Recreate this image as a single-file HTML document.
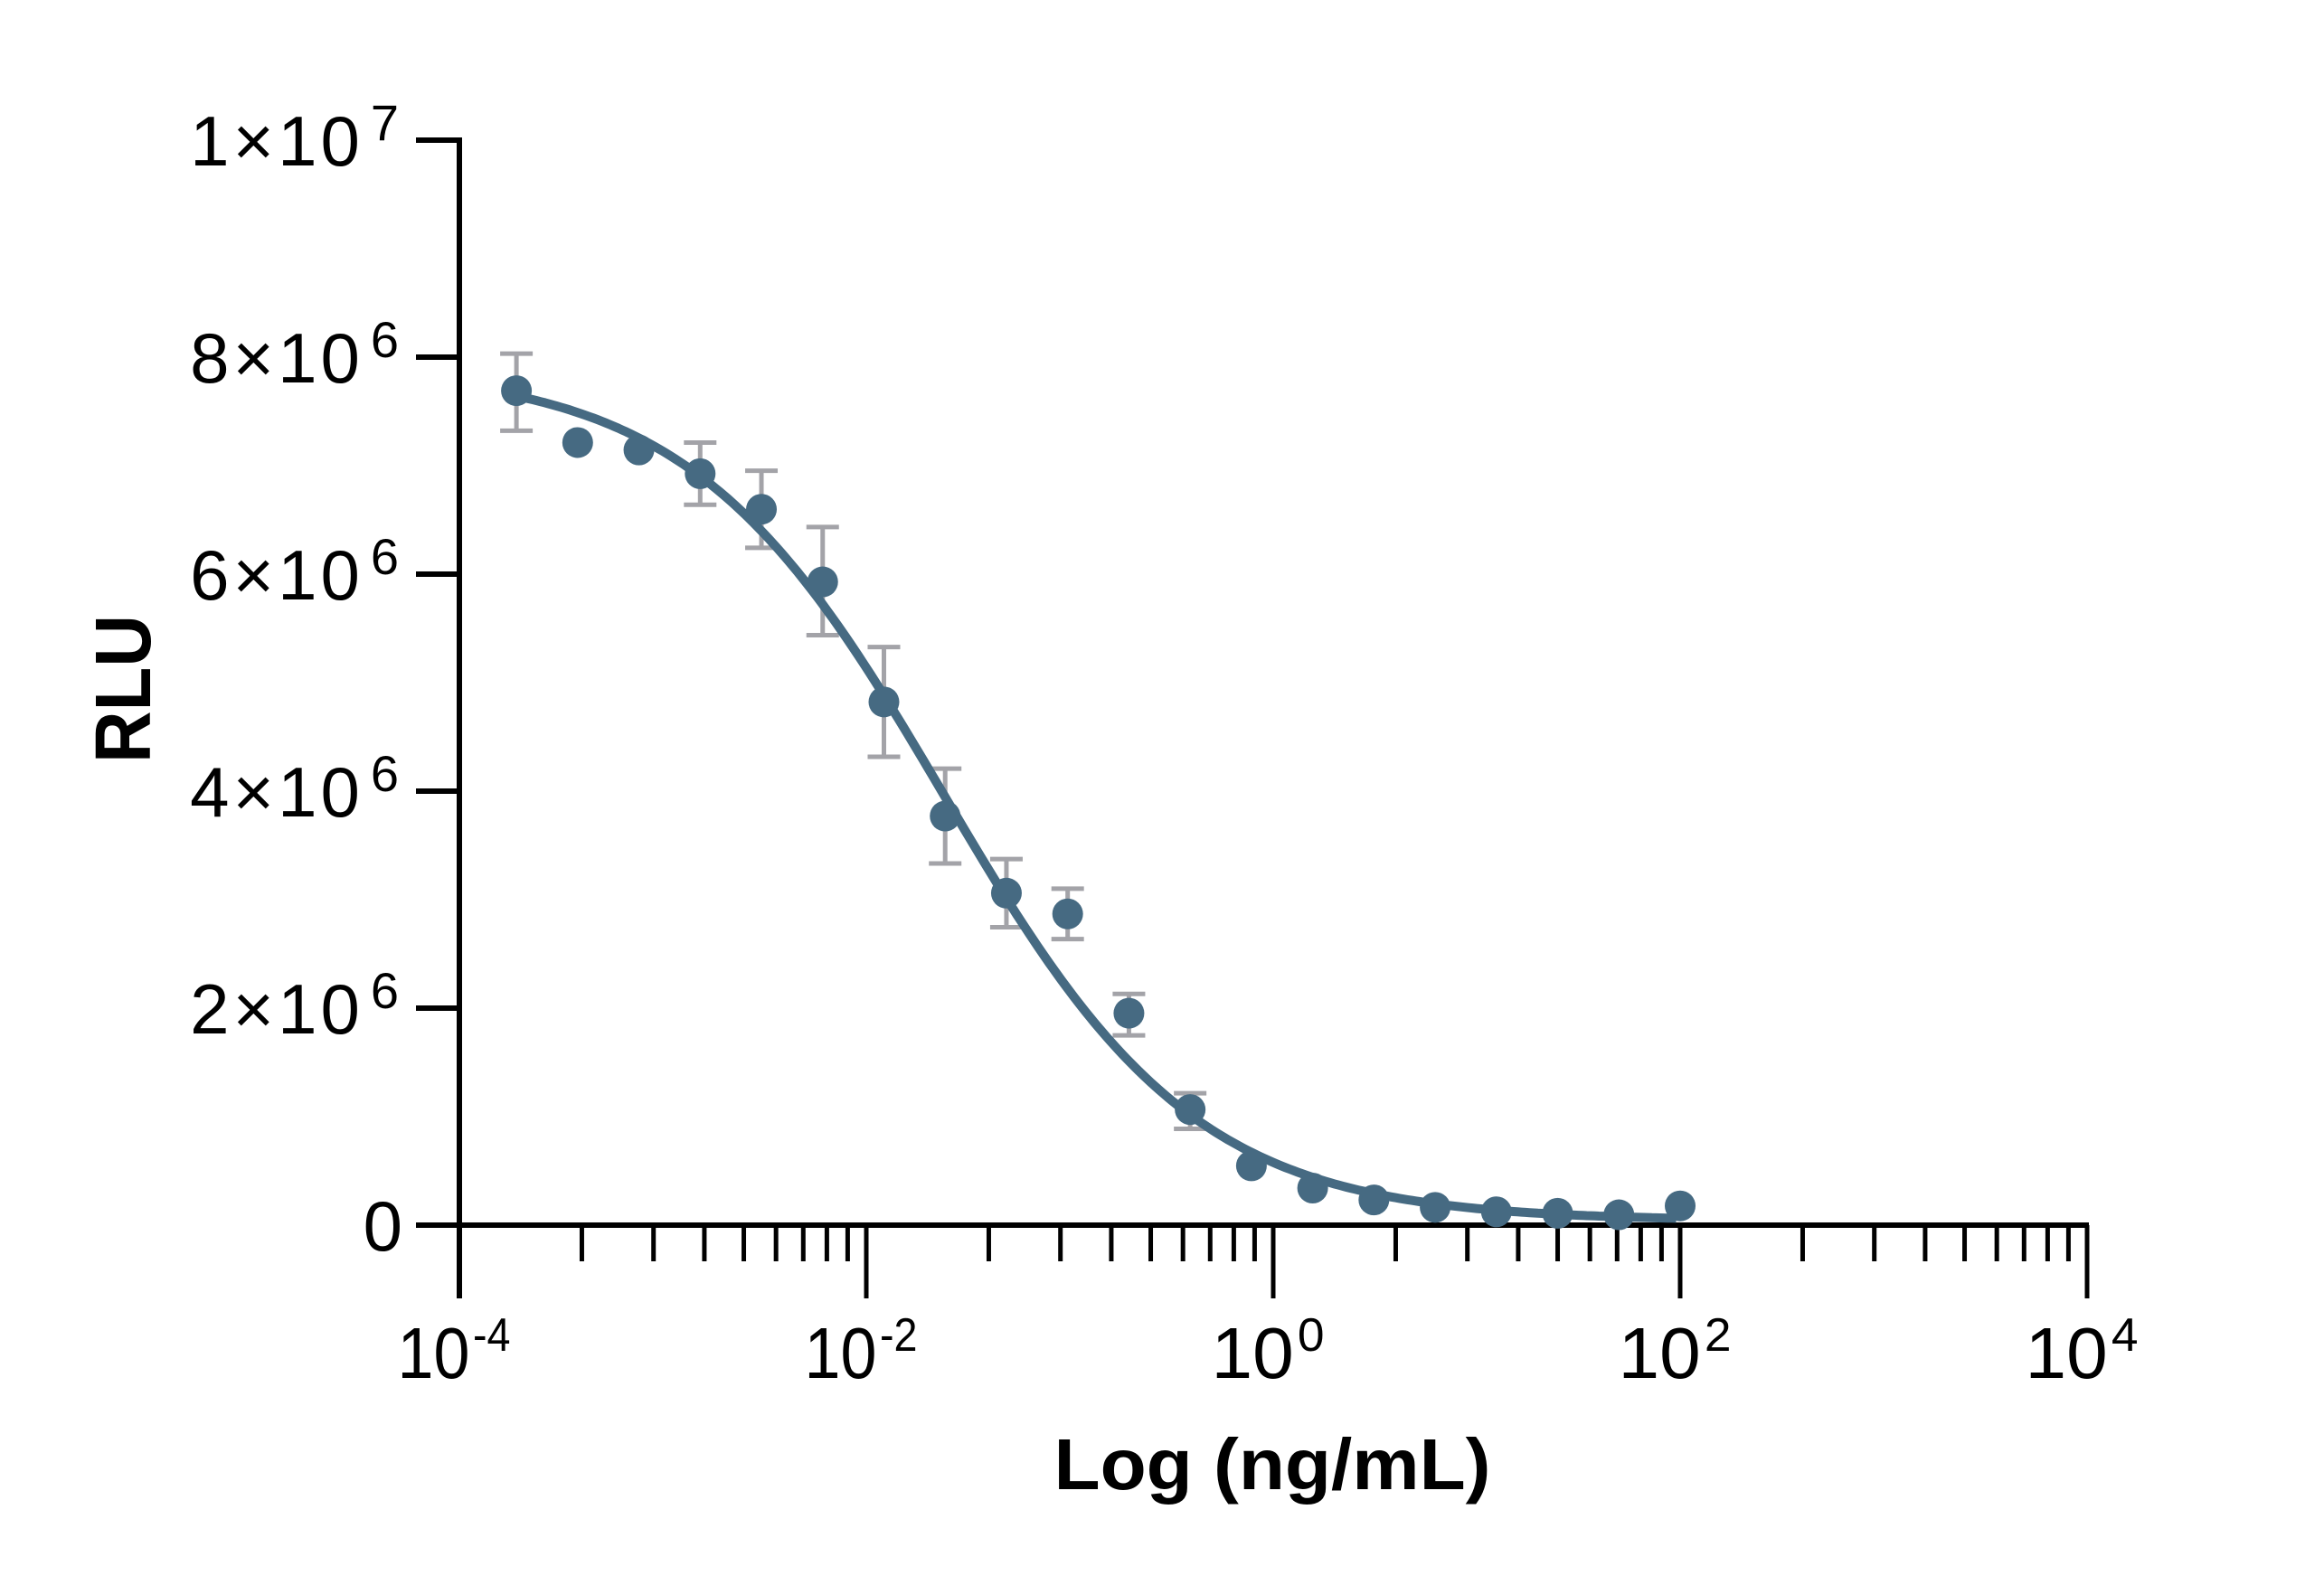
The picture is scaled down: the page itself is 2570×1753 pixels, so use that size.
<!DOCTYPE html>
<html><head><meta charset="utf-8"><style>
html,body{margin:0;padding:0;background:#fff;}
svg{display:block;}
text{font-family:"Liberation Sans",Arial,sans-serif;fill:#000;}
</style></head><body>
<svg id="s" width="2570" height="1753" viewBox="0 0 2570 1753" xmlns="http://www.w3.org/2000/svg">
<rect width="2570" height="1753" fill="#fff"/>
<g id="axes" stroke="#000" stroke-width="6" fill="none">
<line x1="508" y1="152" x2="508" y2="1436"/>
<line x1="460" y1="1355" x2="2310" y2="1355"/>
</g>
<g id="g"></g>
<text x="1407" y="1647" text-anchor="middle" font-weight="bold" font-size="80" textLength="483" lengthAdjust="spacingAndGlyphs">Log (ng/mL)</text>
<text transform="translate(166,762) rotate(-90)" text-anchor="middle" font-weight="bold" font-size="87" textLength="164" lengthAdjust="spacingAndGlyphs">RLU</text>
</svg>
<script>
var NS="http://www.w3.org/2000/svg",g=document.getElementById('g');
function el(t,a,txt){var e=document.createElementNS(NS,t);for(var k in a)e.setAttribute(k,a[k]);if(txt!=null)e.textContent=txt;g.appendChild(e);return e;}
function X(l){return 508+(l+4)*225;}
function Y(v){return 1355-v*120;}
var ylab=[["0",""],["2×10","6"],["4×10","6"],["6×10","6"],["8×10","6"],["1×10","7"]];
for(var i=0;i<=5;i++){var y=1355-i*240;
 el('line',{x1:460,y1:y,x2:508,y2:y,stroke:'#000','stroke-width':6});
 if(i==0){el('text',{x:445,y:y+28,'text-anchor':'end','font-size':78},"0");}
 else{var t=el('text',{x:445,y:y+28,'text-anchor':'end','font-size':78,'letter-spacing':4});
  var a=document.createElementNS(NS,'tspan');a.textContent=ylab[i][0];t.appendChild(a);
  var b=document.createElementNS(NS,'tspan');b.setAttribute('font-size','56');b.setAttribute('dy','-28');b.setAttribute('dx','8');b.textContent=ylab[i][1];t.appendChild(b);}
}
for(var d=-4;d<=4;d+=2){
 el('line',{x1:X(d),y1:1355,x2:X(d),y2:1436,stroke:'#000','stroke-width':5});
 if(d<4)for(var k=2;k<=9;k++){var xx=X(d+2*Math.log10(k));el('line',{x1:xx,y1:1355,x2:xx,y2:1395,stroke:'#000','stroke-width':5});}
 var t=el('text',{x:X(d)-6,y:1524,'text-anchor':'middle','font-size':80,textLength:125,lengthAdjust:'spacingAndGlyphs'});
 var a=document.createElementNS(NS,'tspan');a.textContent="10";t.appendChild(a);
 var b=document.createElementNS(NS,'tspan');b.setAttribute('font-size','52');b.setAttribute('dy','-30');b.setAttribute('dx','4');b.textContent=(d<0?"-":"")+Math.abs(d);t.appendChild(b);
}
var py=[264,299,304,320,344,393,474,551,603,617,684,749,787,802,810,815,818,819,820,814];
var eb={0:[239,291],3:[299,341],4:[318,370],5:[356,429],6:[437,511],7:[519,583],8:[580,626],9:[600,634],10:[671,699],11:[738,762]};
function PY(p){return 1355-(827-p)*1.6393;}
for(var k in eb){var l=2-(19-k)*Math.log10(2),x=X(l),y1=PY(eb[k][0]),y2=PY(eb[k][1]);
 el('line',{x1:x,y1:y1,x2:x,y2:y2,stroke:'#a3a3a8','stroke-width':5});
 el('line',{x1:x-18,y1:y1,x2:x+18,y2:y1,stroke:'#a3a3a8','stroke-width':5});
 el('line',{x1:x-18,y1:y2,x2:x+18,y2:y2,stroke:'#a3a3a8','stroke-width':5});}
var topv=7.9,botv=0.04,ic=-1.62,hh=0.70,pts=[];
var l0=2-19*Math.log10(2);
for(var l=l0;l<=2.0001;l+=0.02){var v=botv+(topv-botv)/(1+Math.pow(10,hh*(l-ic)));pts.push(X(l).toFixed(1)+","+Y(v).toFixed(1));}
el('polyline',{points:pts.join(" "),fill:'none',stroke:'#466a82','stroke-width':10,'stroke-linejoin':'round'});
for(var i=0;i<20;i++){var l=2-(19-i)*Math.log10(2);el('circle',{cx:X(l),cy:PY(py[i]),r:17,fill:'#466a82'});}
</script>
</body></html>
